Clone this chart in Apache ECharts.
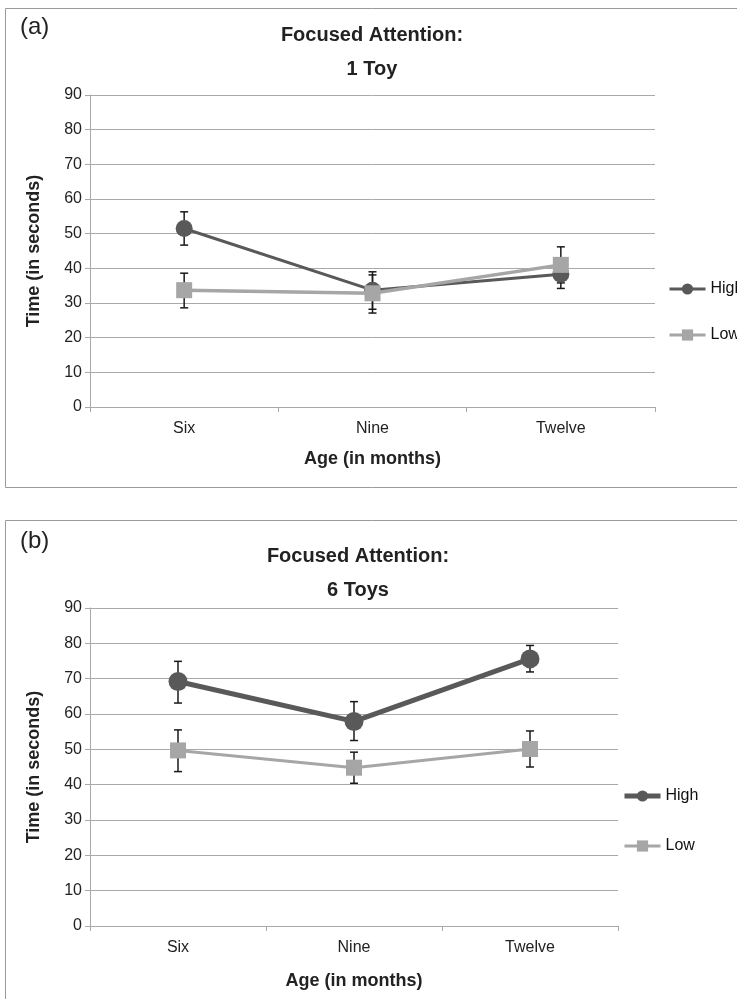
<!DOCTYPE html>
<html>
<head>
<meta charset="utf-8">
<script src="https://cdn.jsdelivr.net/npm/echarts@6/dist/echarts.min.js"></script>
<style>
html,body{margin:0;padding:0;background:#fff;}
#c{width:737px;height:999px;}
</style>
</head>
<body>
<div id="c"></div>
<script>
// ---- data ----
const categories = ['Six', 'Nine', 'Twelve'];
const seriesNames = ['High', 'Low'];
const panelLabels = ['(a)', '(b)'];
const panelTitles = ['Focused Attention:\n1 Toy', 'Focused Attention:\n6 Toys'];
const xAxisTitle = 'Age (in months)';
const yAxisTitle = 'Time (in seconds)';
const yMin = 0, yMax = 90, yStep = 10;

// Panel (a): 1 Toy
const toy1High = [51.5, 33.7, 38.3];
const toy1Low = [33.7, 32.8, 41.0];
const toy1HighErrLow = [46.7, 28.2, 34.2];
const toy1HighErrHigh = [56.3, 39.0, 42.4];
const toy1LowErrLow = [28.6, 27.1, 35.8];
const toy1LowErrHigh = [38.6, 38.1, 46.2];

// Panel (b): 6 Toys
const toy6High = [69.2, 57.9, 75.6];
const toy6Low = [49.7, 44.8, 50.1];
const toy6HighErrLow = [63.1, 52.5, 71.9];
const toy6HighErrHigh = [74.9, 63.5, 79.4];
const toy6LowErrLow = [43.7, 40.4, 45.0];
const toy6LowErrHigh = [55.5, 49.2, 55.2];

// ---- chart ----
const FONT = '"Liberation Sans", Arial, Helvetica, sans-serif';
const DARK = '#595959', LIGHT = '#a6a6a6', GRID = '#a9a9a9';

function errData(lo, hi) {
  return categories.map((c, i) => [i, lo[i], hi[i]]);
}
function errRender(params, api) {
  const x = api.value(0);
  const pLo = api.coord([x, api.value(1)]);
  const pHi = api.coord([x, api.value(2)]);
  const w = 4;
  const st = { stroke: '#1a1a1a', lineWidth: 1.5 };
  return {
    type: 'group',
    children: [
      { type: 'line', shape: { x1: pLo[0], y1: pLo[1], x2: pHi[0], y2: pHi[1] }, style: st },
      { type: 'line', shape: { x1: pLo[0] - w, y1: pLo[1], x2: pLo[0] + w, y2: pLo[1] }, style: st },
      { type: 'line', shape: { x1: pHi[0] - w, y1: pHi[1], x2: pHi[0] + w, y2: pHi[1] }, style: st }
    ]
  };
}

function xAxisCfg(gi, gap) {
  return {
    type: 'category', gridIndex: gi, data: categories, boundaryGap: true,
    axisLine: { lineStyle: { color: GRID, width: 1 } },
    axisTick: { show: true, interval: 0, length: 5, lineStyle: { color: GRID } },
    axisLabel: { fontSize: 16, color: '#222', margin: 14, fontFamily: FONT },
    name: xAxisTitle, nameLocation: 'middle', nameGap: gap,
    nameTextStyle: { fontSize: 18, fontWeight: 'bold', color: '#222', fontFamily: FONT }
  };
}
function yAxisCfg(gi) {
  return {
    type: 'value', gridIndex: gi, min: yMin, max: yMax, interval: yStep,
    axisLine: { show: true, lineStyle: { color: GRID, width: 1 } },
    axisTick: { show: true, length: 5, lineStyle: { color: GRID } },
    splitLine: { show: true, lineStyle: { color: GRID, width: 1 } },
    axisLabel: { fontSize: 16, color: '#222', margin: 8, fontFamily: FONT },
    name: yAxisTitle, nameLocation: 'middle', nameGap: 47, nameRotate: 90,
    nameTextStyle: { fontSize: 18, fontWeight: 'bold', color: '#222', fontFamily: FONT }
  };
}

const option = {
  animation: false,
  backgroundColor: '#fff',
  textStyle: { fontFamily: FONT },
  grid: [
    { left: 90, top: 95, width: 565, height: 312 },
    { left: 90, top: 608, width: 528, height: 318 }
  ],
  xAxis: [xAxisCfg(0, 43), xAxisCfg(1, 46)],
  yAxis: [yAxisCfg(0), yAxisCfg(1)],
  legend: [
    {
      orient: 'vertical', left: 663, top: 276, itemWidth: 36, itemHeight: 14, itemGap: 30,
      data: [
        { name: seriesNames[0], lineStyle: { width: 3 } },
        { name: seriesNames[1], lineStyle: { width: 3 } }
      ],
      textStyle: { fontSize: 16, color: '#111', fontFamily: FONT }
    },
    {
      orient: 'vertical', left: 617, top: 783, itemWidth: 36, itemHeight: 14, itemGap: 34,
      data: [
        { name: seriesNames[0] + ' ', lineStyle: { width: 5 } },
        { name: seriesNames[1] + ' ', lineStyle: { width: 3 } }
      ],
      formatter: n => n.trim(),
      textStyle: { fontSize: 16, color: '#111', fontFamily: FONT }
    }
  ],
  graphic: [
    { type: 'rect', shape: { x: 5.5, y: 8.5, width: 760, height: 479 }, style: { fill: 'none', stroke: '#9a9a9a', lineWidth: 1 }, z: -1 },
    { type: 'rect', shape: { x: 5.5, y: 520.5, width: 760, height: 500 }, style: { fill: 'none', stroke: '#9a9a9a', lineWidth: 1 }, z: -1 },
    { type: 'text', x: 20, y: 15, style: { text: panelLabels[0], fontSize: 24, fill: '#222', fontFamily: FONT } },
    { type: 'text', x: 20, y: 529, style: { text: panelLabels[1], fontSize: 24, fill: '#222', fontFamily: FONT } },
    { type: 'text', x: 372, y: 18, style: { text: panelTitles[0], fontSize: 20, fontWeight: 'bold', lineHeight: 34, fill: '#222', align: 'center', fontFamily: FONT } },
    { type: 'text', x: 358, y: 539, style: { text: panelTitles[1], fontSize: 20, fontWeight: 'bold', lineHeight: 34, fill: '#222', align: 'center', fontFamily: FONT } }
  ],
  series: [
    { type: 'custom', xAxisIndex: 0, yAxisIndex: 0, z: 1, renderItem: errRender, data: errData(toy1HighErrLow, toy1HighErrHigh), silent: true },
    { type: 'custom', xAxisIndex: 0, yAxisIndex: 0, z: 1, renderItem: errRender, data: errData(toy1LowErrLow, toy1LowErrHigh), silent: true },
    { type: 'custom', xAxisIndex: 1, yAxisIndex: 1, z: 1, renderItem: errRender, data: errData(toy6HighErrLow, toy6HighErrHigh), silent: true },
    { type: 'custom', xAxisIndex: 1, yAxisIndex: 1, z: 1, renderItem: errRender, data: errData(toy6LowErrLow, toy6LowErrHigh), silent: true },
    {
      name: seriesNames[0], type: 'line', xAxisIndex: 0, yAxisIndex: 0, data: toy1High, z: 3,
      symbol: 'circle', symbolSize: 17, color: DARK,
      lineStyle: { color: DARK, width: 3 }, itemStyle: { color: DARK }
    },
    {
      name: seriesNames[1], type: 'line', xAxisIndex: 0, yAxisIndex: 0, data: toy1Low, z: 4,
      symbol: 'rect', symbolSize: 16, color: LIGHT,
      lineStyle: { color: LIGHT, width: 3.5 }, itemStyle: { color: LIGHT }
    },
    {
      name: seriesNames[0] + ' ', type: 'line', xAxisIndex: 1, yAxisIndex: 1, data: toy6High, z: 3,
      symbol: 'circle', symbolSize: 19, color: DARK,
      lineStyle: { color: DARK, width: 5 }, itemStyle: { color: DARK }
    },
    {
      name: seriesNames[1] + ' ', type: 'line', xAxisIndex: 1, yAxisIndex: 1, data: toy6Low, z: 4,
      symbol: 'rect', symbolSize: 16, color: LIGHT,
      lineStyle: { color: LIGHT, width: 3 }, itemStyle: { color: LIGHT }
    }
  ]
};

const chart = echarts.init(document.getElementById('c'), null, { renderer: 'canvas' });
chart.setOption(option);
</script>
</body>
</html>
